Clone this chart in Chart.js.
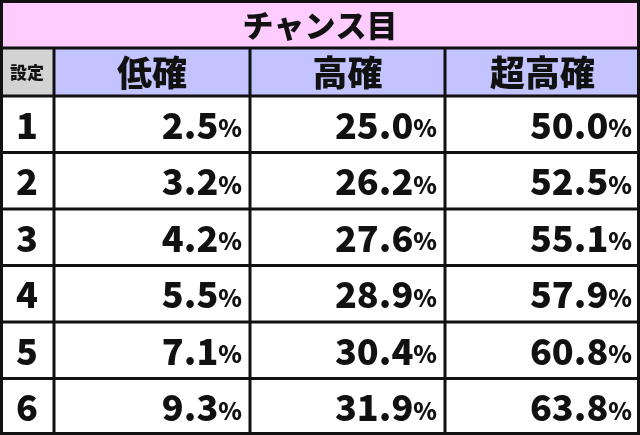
<!DOCTYPE html>
<html><head><meta charset="utf-8">
<script src="https://cdn.jsdelivr.net/npm/chart.js@4"></script>
<style>html,body{margin:0;padding:0;background:#fff}#w{width:640px;height:435px}</style>
</head><body><div id="w"><canvas id="c"></canvas></div>
<script>
const title = "チャンス目";
const headers = ["設定","低確","高確","超高確"];
const settings = ["1","2","3","4","5","6"];
const lowRate = [2.5,3.2,4.2,5.5,7.1,9.3];
const highRate = [25.0,26.2,27.6,28.9,30.4,31.9];
const superRate = [50.0,52.5,55.1,57.9,60.8,63.8];

const F = '"Noto Sans CJK JP", sans-serif';
const tablePlugin = {
  id:'table',
  afterDraw(chart){
    const ctx = chart.ctx, W = chart.width, H = chart.height;
    const cols=[0,54,250,445,W];
    const rows=[0,48,96];
    const rh=(H-96)/6;
    for(let i=1;i<=6;i++) rows.push(96+rh*i);
    ctx.save();
    ctx.fillStyle='#ffccff'; ctx.fillRect(0,0,W,48);
    ctx.fillStyle='#d3d3d3'; ctx.fillRect(0,48,54,48);
    ctx.fillStyle='#c3c3ff'; ctx.fillRect(54,48,W-54,48);
    ctx.fillStyle='#fff'; ctx.fillRect(0,96,W,H-96);
    ctx.strokeStyle='#111'; ctx.lineWidth=3;
    ctx.strokeRect(1.5,1.5,W-3,H-3);
    ctx.beginPath();
    rows.slice(1,-1).forEach(y=>{ctx.moveTo(0,y);ctx.lineTo(W,y);});
    cols.slice(1,-1).forEach(x=>{ctx.moveTo(x,48);ctx.lineTo(x,H);});
    ctx.stroke();
    ctx.fillStyle='#111'; ctx.textBaseline='middle';
    ctx.textAlign='center';
    ctx.font='900 31px '+F; ctx.fillText(title,W/2,25);
    ctx.font='900 17px '+F; ctx.fillText(headers[0],27,73);
    ctx.font='900 35px '+F;
    for(let c=1;c<4;c++) ctx.fillText(headers[c],(cols[c]+cols[c+1])/2,73);
    const series=[lowRate,highRate,superRate];
    for(let r=0;r<6;r++){
      const y=96+rh*(r+0.5)+1;
      ctx.textAlign='center'; ctx.font='900 36px '+F;
      ctx.fillText(settings[r],27,y);
      for(let c=0;c<3;c++){
        const right=cols[c+2]-8;
        ctx.textAlign='right';
        ctx.font='900 24px '+F;
        ctx.fillText('%',right,y+3);
        const pw=ctx.measureText('%').width;
        ctx.font='900 36px '+F;
        ctx.fillText(series[c][r].toFixed(1),right-pw,y);
      }
    }
    ctx.restore();
  }
};
new Chart(document.getElementById('c'),{
  type:'bar',
  data:{labels:settings,datasets:[{data:lowRate,backgroundColor:'rgba(0,0,0,0)'}]},
  options:{responsive:true,maintainAspectRatio:false,animation:false,
    plugins:{legend:{display:false},tooltip:{enabled:false}},
    scales:{x:{display:false},y:{display:false}}},
  plugins:[tablePlugin]
});
</script></body></html>
